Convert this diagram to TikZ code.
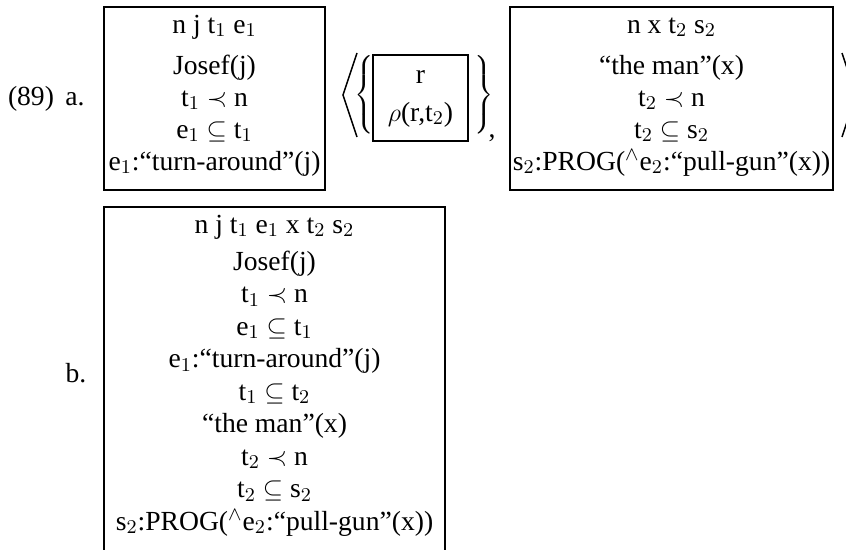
\documentclass[tikz,border=0pt]{standalone}
\usepackage{fontspec}
\setmainfont{Liberation Serif}
\def\pxu{0.46pt}
\begin{document}
\begin{tikzpicture}[x=0.46pt,y=-0.46pt,
  dbox/.style={draw, line width=0.95pt, inner sep=0pt, outer sep=0pt, anchor=north west},
  ln/.style={font=\fontsize{12.7}{15}\selectfont, inner sep=0pt, anchor=base},
  brace/.style={font=\fontsize{12.7}{15}\selectfont, inner sep=0pt},
  brk/.style={line width=0.7pt, line join=miter}]
\useasboundingbox (0,0) rectangle (846,549);
% labels
\node[ln] (num) at (31,105) {(89)};
\node[ln] (la) at (75,105) {a.};
\node[ln] (lb) at (76,382) {b.};
% box a
\node[dbox, minimum width={221*\pxu}, minimum height={183*\pxu}] (boxa) at (104,7) {};
\node[ln] (ah) at (214.5,33) {n j t$_1$ e$_1$};
\foreach \t [count=\i] in {{Josef(j)},{t$_1$ $\prec$ n},{e$_1$ $\subseteq$ t$_1$},{e$_1$:``turn-around''(j)}}
  \node[ln] (a\i) at (214.5,{74+32*(\i-1)}) {\t};
% brackets and inner box
\draw[brk] (357,53) -- (343,95) -- (357,137);
\node[brace] (lbr) at (365.5,95) {$\left\{\vcenter{\hrule height 37pt width 0pt}\right.$};
\node[dbox, minimum width={95*\pxu}, minimum height={86*\pxu}] (boxr) at (373,55) {};
\node[ln] (r1) at (420.5,83) {r};
\node[ln] (r2) at (420.5,121) {$\rho$(r,t$_2$)};
\node[brace] (rbr) at (482.5,95) {$\left.\vcenter{\hrule height 37pt width 0pt}\right\}$};
\node[ln] (comma) at (492,137) {,};
% box c
\node[dbox, minimum width={323*\pxu}, minimum height={183*\pxu}] (boxc) at (510,7) {};
\node[ln] (ch) at (671.5,33) {n x t$_2$ s$_2$};
\foreach \t [count=\i] in {{``the man''(x)},{t$_2$ $\prec$ n},{t$_2$ $\subseteq$ s$_2$},{s$_2$:PROG($^\wedge$e$_2$:``pull-gun''(x))}}
  \node[ln] (c\i) at (671.5,{74+32*(\i-1)}) {\t};
\draw[brk] (842,53) -- (856,95) -- (842,137);
% box b
\node[dbox, minimum width={341*\pxu}, minimum height={350*\pxu}] (boxb) at (104,207) {};
\node[ln] (bh) at (274.5,233) {n j t$_1$ e$_1$ x t$_2$ s$_2$};
\foreach \t [count=\i] in {{Josef(j)},{t$_1$ $\prec$ n},{e$_1$ $\subseteq$ t$_1$},{e$_1$:``turn-around''(j)},{t$_1$ $\subseteq$ t$_2$},{``the man''(x)},{t$_2$ $\prec$ n},{t$_2$ $\subseteq$ s$_2$},{s$_2$:PROG($^\wedge$e$_2$:``pull-gun''(x))}}
  \node[ln] (b\i) at (274.5,{270+32.5*(\i-1)}) {\t};
\end{tikzpicture}
\end{document}
